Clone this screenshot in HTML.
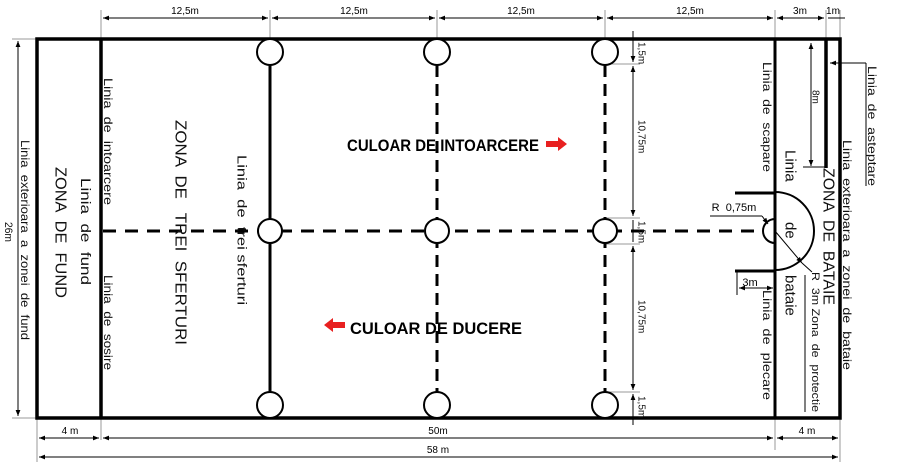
<!DOCTYPE html>
<html><head><meta charset="utf-8"><style>
html,body{margin:0;padding:0;background:#fff;}
svg{display:block;}
text{font-family:"Liberation Sans",sans-serif;white-space:pre;}
</style></head><body>
<svg width="899" height="464" viewBox="0 0 899 464" xmlns="http://www.w3.org/2000/svg" xml:space="preserve">
<defs>
<marker id="a" viewBox="0 0 10 10" refX="10" refY="5" markerWidth="6" markerHeight="6" orient="auto-start-reverse"><path d="M0,1 L10,5 L0,9z" fill="#000"/></marker>
</defs>
<g stroke="#000" stroke-width="1" fill="none">
<line x1="101" y1="10" x2="101" y2="39" stroke="#999"/>
<line x1="270" y1="10" x2="270" y2="39" stroke="#999"/>
<line x1="437" y1="10" x2="437" y2="39" stroke="#999"/>
<line x1="605" y1="10" x2="605" y2="39" stroke="#999"/>
<line x1="775" y1="10" x2="775" y2="39" stroke="#999"/>
<line x1="826" y1="10" x2="826" y2="39" stroke="#999"/>
<line x1="840" y1="10" x2="840" y2="39" stroke="#999"/>
<line x1="103" y1="18" x2="268" y2="18" marker-start="url(#a)" marker-end="url(#a)"/>
<line x1="272" y1="18" x2="435" y2="18" marker-start="url(#a)" marker-end="url(#a)"/>
<line x1="439" y1="18" x2="603" y2="18" marker-start="url(#a)" marker-end="url(#a)"/>
<line x1="607" y1="18" x2="773" y2="18" marker-start="url(#a)" marker-end="url(#a)"/>
<line x1="777" y1="18" x2="824" y2="18" marker-start="url(#a)" marker-end="url(#a)"/>
<line x1="828" y1="18" x2="845" y2="18"/>
<line x1="12" y1="39" x2="37" y2="39" stroke="#999"/>
<line x1="12" y1="418" x2="37" y2="418" stroke="#999"/>
<line x1="18" y1="41" x2="18" y2="416" marker-start="url(#a)" marker-end="url(#a)"/>
<line x1="37" y1="418" x2="37" y2="462" stroke="#999"/>
<line x1="101" y1="418" x2="101" y2="440" stroke="#999"/>
<line x1="775" y1="418" x2="775" y2="450" stroke="#999"/>
<line x1="840" y1="418" x2="840" y2="462" stroke="#999"/>
<line x1="39" y1="438" x2="99" y2="438" marker-start="url(#a)" marker-end="url(#a)"/>
<line x1="103" y1="438" x2="773" y2="438" marker-start="url(#a)" marker-end="url(#a)"/>
<line x1="777" y1="438" x2="838" y2="438" marker-start="url(#a)" marker-end="url(#a)"/>
<line x1="39" y1="457" x2="838" y2="457" marker-start="url(#a)" marker-end="url(#a)"/>
<g stroke="#999"><line x1="605" y1="64" x2="640" y2="64"/><line x1="605" y1="218" x2="640" y2="218"/><line x1="605" y1="244" x2="640" y2="244"/><line x1="605" y1="392" x2="640" y2="392"/></g>
<line x1="633" y1="31" x2="633" y2="62" marker-end="url(#a)"/>
<line x1="633" y1="66" x2="633" y2="216" marker-start="url(#a)" marker-end="url(#a)"/>
<line x1="633" y1="220" x2="633" y2="242" />
<line x1="633" y1="246" x2="633" y2="390" marker-start="url(#a)" marker-end="url(#a)"/>
<line x1="633" y1="394" x2="633" y2="425" marker-start="url(#a)"/>
<line x1="811" y1="43" x2="811" y2="166" marker-start="url(#a)" marker-end="url(#a)"/>
<line x1="803" y1="167" x2="826" y2="167"/>
<line x1="866" y1="63" x2="830" y2="63" marker-end="url(#a)"/>
<line x1="866" y1="63" x2="866" y2="186"/>
<line x1="805" y1="275" x2="805" y2="412"/>
<line x1="710" y1="216" x2="762" y2="216"/>
<line x1="762" y1="216" x2="768" y2="224" marker-end="url(#a)"/>
<line x1="775" y1="231" x2="802" y2="263" marker-end="url(#a)"/>
<line x1="802" y1="263" x2="812" y2="272"/>
<line x1="737" y1="272" x2="737" y2="295"/>
<line x1="739" y1="288" x2="773" y2="288" marker-start="url(#a)" marker-end="url(#a)"/>
</g>
<g stroke="#000" fill="none">
<rect x="37" y="39" width="803" height="379" stroke-width="3.5"/>
<line x1="101" y1="39" x2="101" y2="418" stroke-width="3.5"/>
<line x1="775" y1="39" x2="775" y2="418" stroke-width="3"/>
<line x1="826" y1="39" x2="826" y2="168" stroke-width="3.5"/>
<line x1="270" y1="65" x2="270" y2="392" stroke-width="3"/>
<line x1="437" y1="65" x2="437" y2="392" stroke-width="3" stroke-dasharray="12,7"/>
<line x1="605" y1="65" x2="605" y2="392" stroke-width="3" stroke-dasharray="12,7"/>
<line x1="103" y1="231" x2="762" y2="231" stroke-width="3" stroke-dasharray="13,9"/>
<line x1="735" y1="193" x2="775" y2="193" stroke-width="3"/>
<line x1="735" y1="271" x2="775" y2="271" stroke-width="3"/>
<path d="M775,192 A39,39 0 0 1 775,270" stroke-width="2"/>
<path d="M775,219 A12,12 0 0 0 775,243" stroke-width="2"/>
</g>
<g stroke="#000" stroke-width="2" fill="#fff">
<circle cx="270" cy="52" r="13"/><circle cx="437" cy="52" r="13"/><circle cx="605" cy="52" r="13"/>
<circle cx="270" cy="231" r="12"/><circle cx="437" cy="231" r="12"/><circle cx="605" cy="231" r="12"/>
<circle cx="270" cy="405" r="13"/><circle cx="437" cy="405" r="13"/><circle cx="605" cy="405" r="13"/>
</g>
<g font-size="10" text-anchor="middle" fill="#000">
<text x="185" y="14">12,5m</text><text x="354" y="14">12,5m</text><text x="521" y="14">12,5m</text><text x="690" y="14">12,5m</text>
<text x="800" y="14">3m</text><text x="833" y="14">1m</text>
<text x="70" y="434">4 m</text><text x="438" y="434">50m</text><text x="807" y="434">4 m</text><text x="438" y="453">58 m</text>
<text x="750" y="286" font-size="11">3m</text>
<text x="734" y="211" font-size="11">R  0,75m</text>
</g>
<text x="347" y="151" font-size="17" font-weight="bold" textLength="192" lengthAdjust="spacingAndGlyphs">CULOAR DE INTOARCERE</text>
<text x="350" y="334" font-size="17" font-weight="bold" textLength="172" lengthAdjust="spacingAndGlyphs">CULOAR DE DUCERE</text>
<path d="M546,141 h12 v-4 l9,7 l-9,7 v-4 h-12z" fill="#e82020"/>
<path d="M345,322 h-12 v-4 l-9,7 l9,7 v-4 h12z" fill="#e82020"/>
<g fill="#111" dominant-baseline="central">
<text transform="translate(8,222) rotate(90)" font-size="11" textLength="20" lengthAdjust="spacingAndGlyphs">26m</text>
<text transform="translate(25,140) rotate(90)" font-size="12" textLength="200" lengthAdjust="spacingAndGlyphs">Linia  exterioara  a  zonei  de  fund</text>
<text transform="translate(60,167) rotate(90)" font-size="16" textLength="131" lengthAdjust="spacingAndGlyphs">ZONA  DE  FUND</text>
<text transform="translate(86,178) rotate(90)" font-size="14" textLength="107" lengthAdjust="spacingAndGlyphs">Linia  de  fund</text>
<text transform="translate(108,78) rotate(90)" font-size="12" textLength="127" lengthAdjust="spacingAndGlyphs">Linia  de  intoarcere</text>
<text transform="translate(108,275) rotate(90)" font-size="12" textLength="95" lengthAdjust="spacingAndGlyphs">Linia  de  sosire</text>
<text transform="translate(180,120) rotate(90)" font-size="16" textLength="225" lengthAdjust="spacingAndGlyphs">ZONA  DE   TREI  SFERTURI</text>
<text transform="translate(242,155) rotate(90)" font-size="13" textLength="150" lengthAdjust="spacingAndGlyphs">Linia  de  trei sferturi</text>
<text transform="translate(641,42) rotate(90)" font-size="10">1,5m</text>
<text transform="translate(641,120) rotate(90)" font-size="10">10,75m</text>
<text transform="translate(641,221) rotate(90)" font-size="10">1,5m</text>
<text transform="translate(641,300) rotate(90)" font-size="10">10,75m</text>
<text transform="translate(641,396) rotate(90)" font-size="10">1,5m</text>
<text transform="translate(815,90) rotate(90)" font-size="10">8m</text>
<text transform="translate(767,62) rotate(90)" font-size="12" textLength="110" lengthAdjust="spacingAndGlyphs">Linia  de  scapare</text>
<text transform="translate(767,290) rotate(90)" font-size="12" textLength="110" lengthAdjust="spacingAndGlyphs">Linia  de  plecare</text>
<text transform="translate(790,150) rotate(90)" font-size="15">Linia</text>
<text transform="translate(790,222) rotate(90)" font-size="15">de</text>
<text transform="translate(790,275) rotate(90)" font-size="15">bataie</text>
<text transform="translate(828,168) rotate(90)" font-size="16" textLength="137" lengthAdjust="spacingAndGlyphs">ZONA  DE  BATAIE</text>
<text transform="translate(815,272) rotate(90)" font-size="11" textLength="140" lengthAdjust="spacingAndGlyphs">R  3m Zona  de  protectie</text>
<text transform="translate(847,140) rotate(90)" font-size="12" textLength="230" lengthAdjust="spacingAndGlyphs">Linia  exterioara  a  zonei  de  bataie</text>
<text transform="translate(872,66) rotate(90)" font-size="12" textLength="120" lengthAdjust="spacingAndGlyphs">Linia  de  asteptare</text>
</g>
</svg>
</body></html>
